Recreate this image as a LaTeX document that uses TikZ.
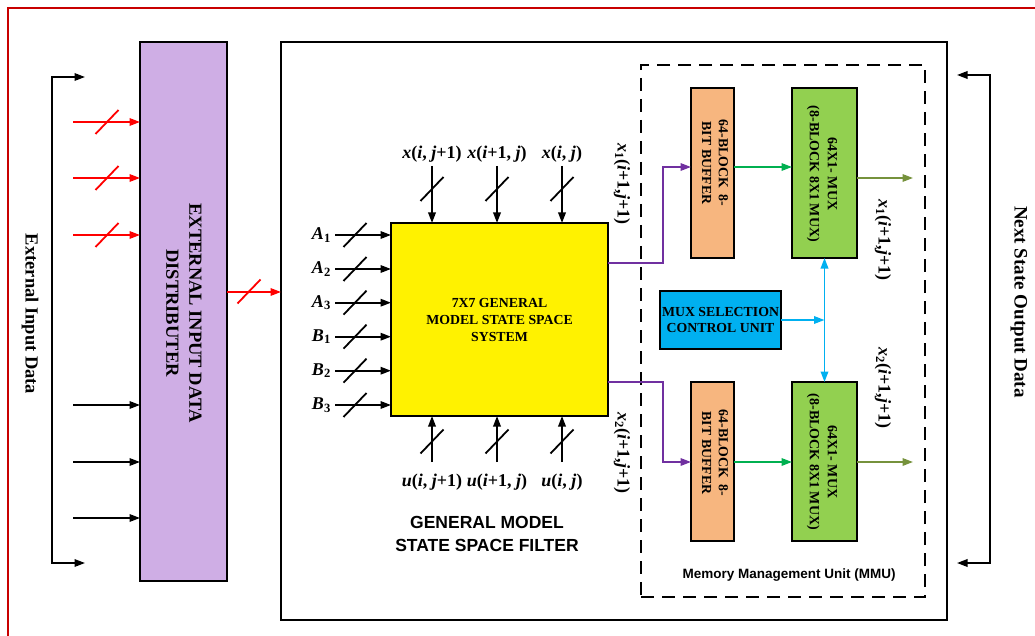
\documentclass[tikz,border=0pt]{standalone}
\usepackage{fontspec}
\setmainfont{Liberation Serif}
\newfontfamily\sansfam{Liberation Sans}
\usetikzlibrary{arrows.meta,calc}
\definecolor{distc}{RGB}{207,174,229}
\definecolor{bufc}{RGB}{247,182,127}
\definecolor{muxc}{RGB}{146,208,80}
\definecolor{ctlc}{RGB}{0,176,240}
\definecolor{vio}{RGB}{112,48,160}
\definecolor{grn}{RGB}{0,176,80}
\definecolor{oliv}{RGB}{118,146,60}
\definecolor{framec}{RGB}{200,0,0}
\tikzset{
  bt/.tip={Triangle[length=10.5pt,width=7.5pt]},
  box/.style={draw=black, line width=1.9pt, inner sep=0pt, outer sep=0pt},
  arr/.style={line width=1.8pt, -{Triangle[length=10.5pt,width=7.5pt]}},
  slashln/.style={line width=1.8pt},
  lbl/.style={inner sep=0pt, font=\fontsize{18}{20}\selectfont\bfseries},
  boxtxt/.style={inner sep=0pt, align=center, font=\fontsize{13.8}{16.7}\selectfont\bfseries},
}
\newcommand{\busslash}[2][black]{\draw[slashln,#1] ($(#2)+(-11.5,12)$) -- ($(#2)+(11.5,-12)$);}
\begin{document}
\begin{tikzpicture}[x=1pt,y=-1pt]
\useasboundingbox (0,0) rectangle (1035,636);
\draw[framec, line width=1.6pt] (8,640) -- (8,8) -- (1040,8);

% main blocks
\node[box, fill=distc, minimum width=87pt, minimum height=539pt] (dist) at (183.5,311.5) {};
\node[rotate=-90, align=center, inner sep=0pt, font=\fontsize{18.5}{23}\selectfont\bfseries] (distt) at (184,313) {EXTERNAL INPUT DATA\\DISTRIBUTER};

\node[box, minimum width=666pt, minimum height=578pt] (filt) at (614,331) {};
\node[draw, line width=1.8pt, dash pattern=on 13pt off 8pt, inner sep=0pt, minimum width=284pt, minimum height=532pt] (mmu) at (783,331) {};

\node[box, fill=yellow, minimum width=217pt, minimum height=193pt] (sys) at (499.5,319.5) {};
\node[boxtxt] (syst) at (499.5,320) {7X7 GENERAL\\MODEL STATE SPACE\\SYSTEM};

\node[box, fill=bufc, minimum width=43pt, minimum height=170pt] (buf1) at (712.5,173) {};
\node[boxtxt, rotate=-90] (buf1t) at (715,163) {64-BLOCK\ \ 8-\\BIT BUFFER};
\node[box, fill=muxc, minimum width=65pt, minimum height=170pt] (mux1) at (824.5,173) {};
\node[boxtxt, rotate=-90, font=\fontsize{14}{18}\selectfont\bfseries] (mux1t) at (822,174) {64X1- MUX\\(8-BLOCK 8X1 MUX)};

\node[box, fill=bufc, minimum width=43pt, minimum height=159pt] (buf2) at (712.5,461.5) {};
\node[boxtxt, rotate=-90] (buf2t) at (715,453) {64-BLOCK\ \ 8-\\BIT BUFFER};
\node[box, fill=muxc, minimum width=65pt, minimum height=159pt] (mux2) at (824.5,461.5) {};
\node[boxtxt, rotate=-90, font=\fontsize{14}{18}\selectfont\bfseries] (mux2t) at (822,462) {64X1- MUX\\(8-BLOCK 8X1 MUX)};

\node[box, fill=ctlc, minimum width=121pt, minimum height=58pt] (ctrl) at (720.5,320) {};
\node[boxtxt] (ctrlt) at (720.5,320) {MUX SELECTION\\CONTROL UNIT};

% side labels
\node[rotate=-90, inner sep=0pt, font=\fontsize{18.5}{20}\selectfont\bfseries] (extin) at (30,314) {External Input Data};
\node[rotate=-90, inner sep=0pt, font=\fontsize{19}{20}\selectfont\bfseries] (nsout) at (1019,302) {Next State Output Data};
\node[align=center, inner sep=0pt, font=\fontsize{17.5}{22.7}\selectfont\sansfam\bfseries] (gmt) at (487,534) {GENERAL MODEL\\STATE SPACE FILTER};
\node[inner sep=0pt, font=\fontsize{13.5}{16}\selectfont\sansfam\bfseries] (mmut) at (789,575) {Memory Management Unit (MMU)};

% left bracket
\coordinate (lbt) at (85,77);
\coordinate (lbb) at (85,563);
\draw[line width=1.8pt, bt-bt] (lbt) -- (52,77) -- (52,563) -- (lbb);
% right bracket
\coordinate (rbt) at (957,75);
\coordinate (rbb) at (957,563);
\draw[line width=1.8pt, bt-bt] (rbt) -- (990,75) -- (990,563) -- (rbb);

% inputs to distributer
\foreach \y/\n in {122/r1,178/r2,235/r3} {
  \coordinate (\n) at (73,\y);
  \draw[arr, red] (\n) -- (dist.west |- \n);
  \busslash[red]{107,\y}
}
\foreach \y/\n in {405/k1,462/k2,518/k3} {
  \coordinate (\n) at (73,\y);
  \draw[arr] (\n) -- (dist.west |- \n);
}
% distributer to filter
\coordinate (dout) at (0,292);
\draw[arr, red] (dist.east |- dout) -- (filt.west |- dout);
\busslash[red]{249,291.5}

% A/B inputs
\foreach \y/\n/\t in {235/a1/{\textit{A}\textsubscript{1}},269/a2/{\textit{A}\textsubscript{2}},302.7/a3/{\textit{A}\textsubscript{3}},336.7/b1/{\textit{B}\textsubscript{1}},370.7/b2/{\textit{B}\textsubscript{2}},405/b3/{\textit{B}\textsubscript{3}}} {
  \coordinate (\n) at (335,\y);
  \draw[arr] (\n) -- (sys.west |- \n);
  \busslash{355,\y}
  \node[lbl, anchor=east, font=\fontsize{18}{20}\selectfont\bfseries] (\n l) at (331,\y) {\t};
}

% top inputs
\foreach \x/\n/\t in {432/t1/{\textit{x}(\textit{i}, \textit{j}+1)},497/t2/{\textit{x}(\textit{i}+1, \textit{j})},562/t3/{\textit{x}(\textit{i}, \textit{j})}} {
  \coordinate (\n) at (\x,166);
  \draw[arr] (\n) -- (sys.north -| \n);
  \busslash{\x,189}
  \node[lbl] (\n l) at (\x,154) {\t};
}
% bottom inputs
\foreach \x/\n/\t in {432/u1/{\textit{u}(\textit{i}, \textit{j}+1)},497/u2/{\textit{u}(\textit{i}+1, \textit{j})},562/u3/{\textit{u}(\textit{i}, \textit{j})}} {
  \coordinate (\n) at (\x,462);
  \draw[arr] (\n) -- (sys.south -| \n);
  \busslash{\x,441.5}
  \node[lbl] (\n l) at (\x,482) {\t};
}

% state outputs
\coordinate (p1) at (663,263);
\coordinate (q1) at (663,167);
\draw[arr, vio] (sys.east |- p1) -- (p1) -- (q1) -- (buf1.west |- q1);
\coordinate (p2) at (663,382);
\coordinate (q2) at (663,462);
\draw[arr, vio] (sys.east |- p2) -- (p2) -- (q2) -- (buf2.west |- q2);

\draw[arr, grn] (buf1.east |- q1) -- (mux1.west |- q1);
\draw[arr, grn] (buf2.east |- q2) -- (mux2.west |- q2);

\coordinate (o1) at (913,178);
\coordinate (o2) at (913,462);
\draw[arr, oliv] (mux1.east |- o1) -- (o1);
\draw[arr, oliv] (mux2.east |- o2) -- (o2);

% control
\draw[line width=1.8pt, ctlc, bt-bt] (mux1.south) -- (mux2.north);
\draw[arr, ctlc] (ctrl.east) -- (mux1.south |- ctrl.east);

% rotated state labels
\node[lbl, rotate=-90] (x1a) at (622,184) {\textit{x}\textsubscript{1}(\textit{i}+1,\textit{j}+1)};
\node[lbl, rotate=-90] (x1b) at (883,240) {\textit{x}\textsubscript{1}(\textit{i}+1,\textit{j}+1)};
\node[lbl, rotate=-90] (x2a) at (622,453) {\textit{x}\textsubscript{2}(\textit{i}+1,\textit{j}+1)};
\node[lbl, rotate=-90] (x2b) at (883,388) {\textit{x}\textsubscript{2}(\textit{i}+1,\textit{j}+1)};
\end{tikzpicture}
\end{document}
